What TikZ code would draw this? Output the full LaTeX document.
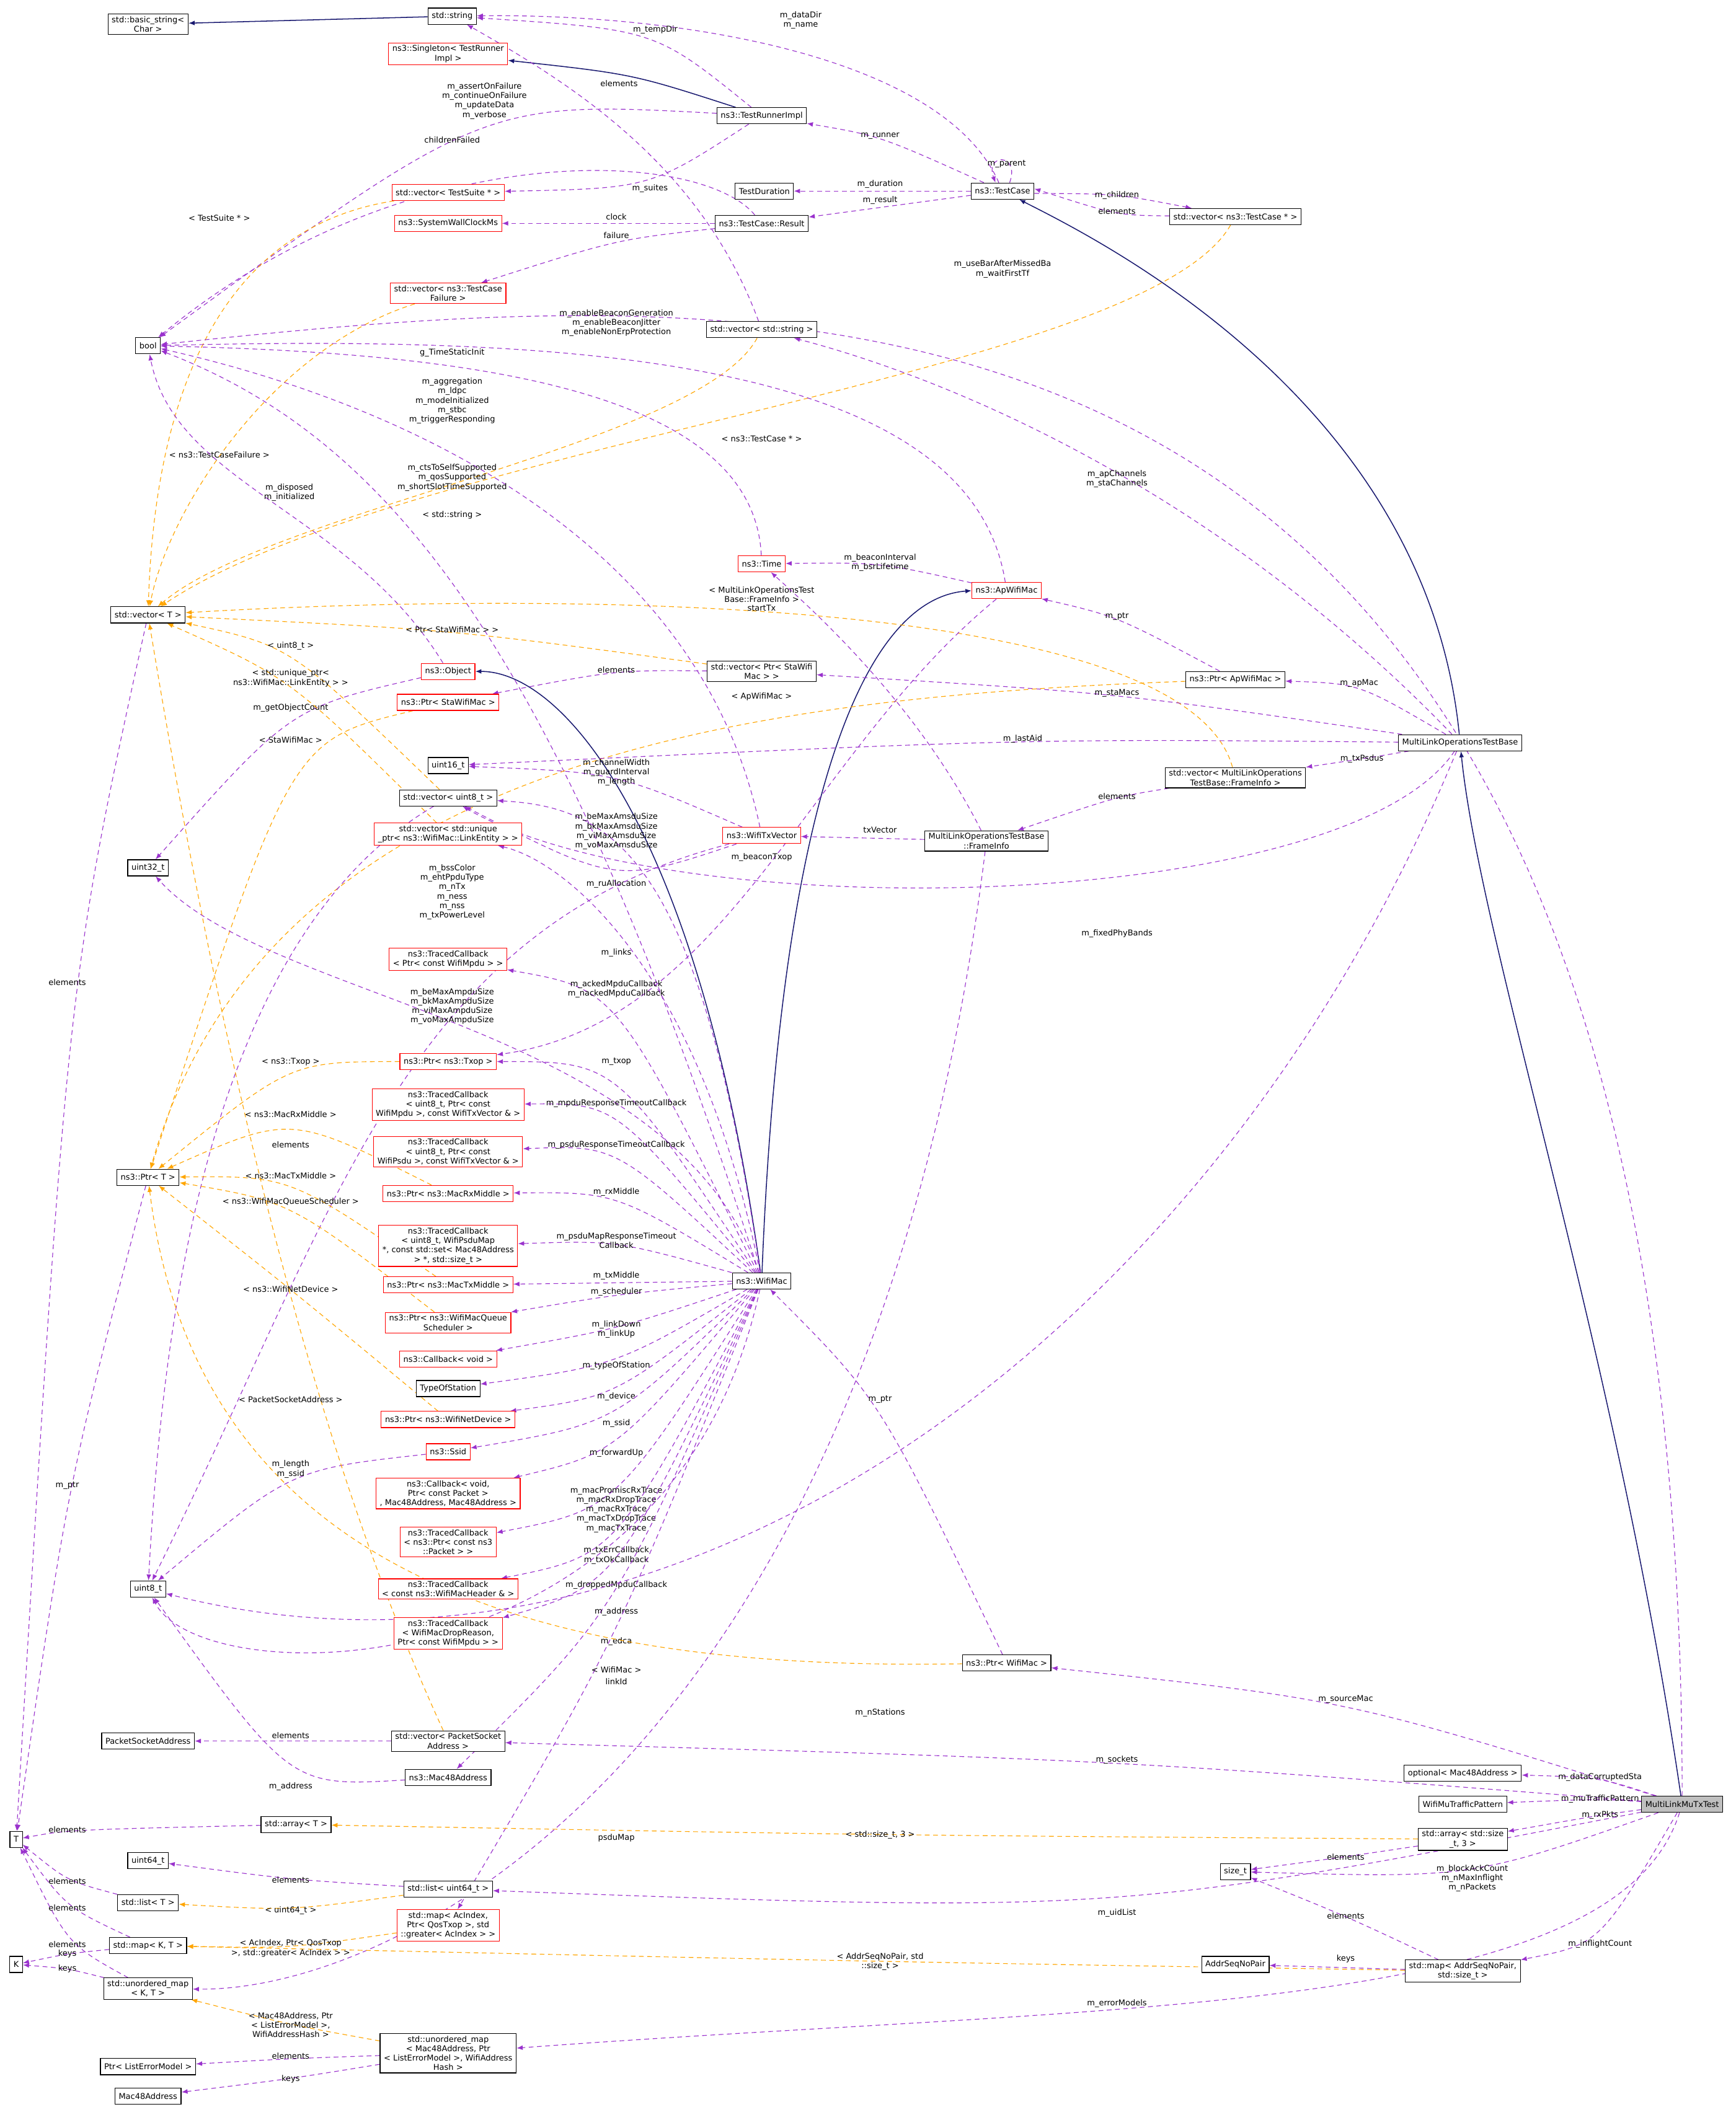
\documentclass[tikz,border=0pt]{standalone}
\usepackage{fontspec}
\setmainfont{DejaVu Sans}
\usetikzlibrary{arrows.meta,backgrounds}
\definecolor{depc}{HTML}{9A32CD}
\definecolor{tplc}{HTML}{FFA500}
\definecolor{inhc}{HTML}{191970}
\tikzset{
  box/.style={draw=black, fill=white, line width=0.3pt, inner xsep=1.6pt, inner ysep=1pt,
    minimum height=0.24cm, align=center, font=\fontsize{3.4}{4}\selectfont},
  rbox/.style={box, draw=red},
  gbox/.style={box, fill=black!25},
  dep/.style={draw=depc, line width=0.3pt, dash pattern=on 2pt off 1.5pt, -{Latex[length=2.6pt,width=2pt]}},
  tpl/.style={draw=tplc, line width=0.3pt, dash pattern=on 2pt off 1.5pt, -{Latex[length=2.6pt,width=2pt]}},
  inh/.style={draw=inhc, line width=0.4pt, -{Latex[length=2.6pt,width=2pt]}},
  lbl/.style={font=\fontsize{3.4}{4}\selectfont, align=center, inner sep=0.4pt, text=black},
}
\begin{document}
\begin{tikzpicture}[x=0.02cm, y=-0.02cm]
  \useasboundingbox (0,0) rectangle (1290,1566);
%  type nodes, top part
  \node [box] (basicstring) at (110,18) {std::basic\_string<\\Char >};
  \node [box] (string) at (336,12) {std::string};
  \node [rbox] (singleton) at (333,40) {ns3::Singleton< TestRunner\\Impl >};
  \node [box] (bool) at (110,257) {bool};
  \node [box] (runnerimpl) at (566,86) {ns3::TestRunnerImpl};
  \node [rbox] (vecsuite) at (333,143) {std::vector< TestSuite * >};
  \node [rbox] (wallclock) at (333,166) {ns3::SystemWallClockMs};
  \node [rbox] (vecfailure) at (333,218) {std::vector< ns3::TestCase\\Failure >};
  \node [box] (testduration) at (568,142) {TestDuration};
  \node [box] (result) at (566,166) {ns3::TestCase::Result};
  \node [box] (testcase) at (745,142) {ns3::TestCase};
  \node [box] (vectestcase) at (918,161) {std::vector< ns3::TestCase * >};
  \node [box] (vecstring) at (566,245) {std::vector< std::string >};
  \node [rbox] (time) at (566,419) {ns3::Time};
  \node [rbox] (apwifimac) at (748,439) {ns3::ApWifiMac};
  \node [box] (vecT) at (110,457) {std::vector< T >};
  \node [rbox] (object) at (333,499) {ns3::Object};
  \node [box] (vecstawifi) at (566,499) {std::vector< Ptr< StaWifi\\Mac > >};
  \node [box] (ptrap) at (918,505) {ns3::Ptr< ApWifiMac >};
  \node [rbox] (ptrsta) at (333,522) {ns3::Ptr< StaWifiMac >};
  \node [box] (base) at (1085,552) {MultiLinkOperationsTestBase};
  \node [box] (uint16) at (333,569) {uint16\_t};
  \node [box] (vecframeinfo) at (918,578) {std::vector< MultiLinkOperations\\TestBase::FrameInfo >};
  \node [box] (vecuint8) at (333,593) {std::vector< uint8\_t >};
  \node [rbox] (veclinkentity) at (333,620) {std::vector< std::unique\\\_ptr< ns3::WifiMac::LinkEntity > >};
  \node [rbox] (txvector) at (566,621) {ns3::WifiTxVector};
  \node [box] (frameinfo) at (733,625) {MultiLinkOperationsTestBase\\::FrameInfo};
  \node [box] (uint32) at (110,645) {uint32\_t};
%  WifiMac members
  \node [rbox] (tracedcb1) at (333,713) {ns3::TracedCallback\\< Ptr< const WifiMpdu > >};
  \node [rbox] (ptrtxop) at (333,789) {ns3::Ptr< ns3::Txop >};
  \node [rbox] (tracedcb2) at (333,821) {ns3::TracedCallback\\< uint8\_t, Ptr< const\\WifiMpdu >, const WifiTxVector \& >};
  \node [rbox] (tracedcb3) at (333,856) {ns3::TracedCallback\\< uint8\_t, Ptr< const\\WifiPsdu >, const WifiTxVector \& >};
  \node [box] (ptrT) at (110,875) {ns3::Ptr< T >};
  \node [rbox] (ptrrx) at (333,887) {ns3::Ptr< ns3::MacRxMiddle >};
  \node [rbox] (tracedcb4) at (333,926) {ns3::TracedCallback\\< uint8\_t, WifiPsduMap\\*, const std::set< Mac48Address\\> *, std::size\_t >};
  \node [box] (wifimac) at (566,952) {ns3::WifiMac};
  \node [rbox] (ptrtx) at (333,955) {ns3::Ptr< ns3::MacTxMiddle >};
  \node [rbox] (ptrsched) at (333,983) {ns3::Ptr< ns3::WifiMacQueue\\Scheduler >};
  \node [rbox] (cbvoid) at (333,1010) {ns3::Callback< void >};
  \node [box] (typeofstation) at (333,1032) {TypeOfStation};
  \node [rbox] (ptrnetdev) at (333,1055) {ns3::Ptr< ns3::WifiNetDevice >};
  \node [rbox] (ssid) at (333,1079) {ns3::Ssid};
  \node [rbox] (cbvoid2) at (333,1110) {ns3::Callback< void,\\Ptr< const Packet >\\, Mac48Address, Mac48Address >};
  \node [rbox] (tracedcb5) at (333,1146) {ns3::TracedCallback\\< ns3::Ptr< const ns3\\::Packet > >};
  \node [rbox] (tracedcb6) at (333,1181) {ns3::TracedCallback\\< const ns3::WifiMacHeader \& >};
  \node [rbox] (tracedcb7) at (333,1214) {ns3::TracedCallback\\< WifiMacDropReason,\\Ptr< const WifiMpdu > >};
  \node [box] (uint8) at (110,1181) {uint8\_t};
  \node [box] (ptrwifimac) at (748,1236) {ns3::Ptr< WifiMac >};
%  bottom part
  \node [box] (packetsocketaddr) at (110,1294) {PacketSocketAddress};
  \node [box] (vecpsa) at (333,1294) {std::vector< PacketSocket\\Address >};
  \node [box] (mac48) at (333,1321) {ns3::Mac48Address};
  \node [box] (optional) at (1087,1318) {optional< Mac48Address >};
  \node [box] (wifimu) at (1087,1341) {WifiMuTrafficPattern};
  \node [gbox] (mltest) at (1250,1341) {MultiLinkMuTxTest};
  \node [box] (T) at (12,1367) {T};
  \node [box] (arrayT) at (220,1356) {std::array< T >};
  \node [box] (arraysize) at (1087,1367) {std::array< std::size\\\_t, 3 >};
  \node [box] (uint64) at (110,1383) {uint64\_t};
  \node [box] (sizet) at (918,1391) {size\_t};
  \node [box] (listT) at (110,1414) {std::list< T >};
  \node [box] (listuint64) at (333,1404) {std::list< uint64\_t >};
  \node [box] (mapKT) at (110,1446) {std::map< K, T >};
  \node [rbox] (mapac) at (333,1431) {std::map< AcIndex,\\Ptr< QosTxop >, std\\::greater< AcIndex > >};
  \node [box] (K) at (12,1460) {K};
  \node [box] (umapKT) at (110,1478) {std::unordered\_map\\< K, T >};
  \node [box] (addrseq) at (918,1460) {AddrSeqNoPair};
  \node [box] (mapaddr) at (1087,1465) {std::map< AddrSeqNoPair,\\std::size\_t >};
  \node [box] (ptrerr) at (110,1536) {Ptr< ListErrorModel >};
  \node [box] (umaperr) at (333,1526) {std::unordered\_map\\< Mac48Address, Ptr\\< ListErrorModel >, WifiAddress\\Hash >};
  \node [box] (mac48addr) at (110,1558) {Mac48Address};

  \begin{scope}[on background layer]
%  inheritance
  \draw [inh] (string) -- (basicstring);
  \draw [inh] (runnerimpl) .. controls (470,55) .. (singleton);
  \draw [inh] (base) .. controls (1060,300) and (820,180) .. (testcase);
  \draw [inh] (mltest) .. controls (1200,1000) and (1100,700) .. (base);
  \draw [inh] (wifimac) .. controls (580,600) and (640,445) .. (apwifimac.west) ;
  \draw [inh] (wifimac) .. controls (520,620) and (420,499) .. (object);

%  test framework
  \draw [dep] (testcase) .. controls (700,40) and (500,10) .. (string) node [lbl, at={(595,15)}] {m\_dataDir\\m\_name};
  \draw [dep] (runnerimpl) .. controls (487,22) .. (string) node [lbl, at={(487,22)}] {m\_tempDir};
  \draw [dep] (vecstring) .. controls (520,120) and (420,60) .. (string) node [lbl, at={(460,62)}] {elements};
  \draw [dep] (runnerimpl) .. controls (360,75) .. (bool) node [lbl, at={(360,75)}] {m\_assertOnFailure\\m\_continueOnFailure\\m\_updateData\\m\_verbose};
  \draw [dep] (result) .. controls (520,110) and (300,100) .. (bool) node [lbl, at={(336,104)}] {childrenFailed};
  \draw [dep] (runnerimpl) .. controls (483,140) .. (vecsuite) node [lbl, at={(483,140)}] {m\_suites};
  \draw [dep] (testcase) .. controls (654,101) .. (runnerimpl) node [lbl, at={(654,101)}] {m\_runner};
  \draw [dep] ([xshift=3pt]testcase.north) .. controls +(8,-22) and +(-8,-22) .. ([xshift=-3pt]testcase.north) node [lbl, at={(748,122)}] {m\_parent};
  \draw [dep] (testcase) -- (testduration) node [lbl, at={(654,137)}] {m\_duration};
  \draw [dep] (testcase) -- (result) node [lbl, at={(654,149)}] {m\_result};
  \draw [dep] ([yshift=-1pt]testcase.east) .. controls (830,144) .. (vectestcase) node [lbl, at={(830,145)}] {m\_children};
  \draw [dep] (vectestcase) .. controls (830,160) .. ([yshift=1pt]testcase.east) node [lbl, at={(830,157)}] {elements};
  \draw [dep] (result) -- (wallclock) node [lbl, at={(458,161)}] {clock};
  \draw [dep] (result) .. controls (458,178) .. (vecfailure) node [lbl, at={(458,175)}] {failure};
  \draw [tpl] (vecsuite) .. controls (160,170) and (115,300) .. (vecT) node [lbl, at={(163,162)}] {< TestSuite * >};
  \draw [tpl] (vecfailure) .. controls (200,260) and (125,380) .. (vecT) node [lbl, at={(163,338)}] {< ns3::TestCaseFailure >};
  \draw [tpl] (vecstring) .. controls (520,330) and (200,380) .. (vecT) node [lbl, at={(336,383)}] {< std::string >};
  \draw [tpl] (vectestcase) .. controls (850,280) and (300,330) .. (vecT) node [lbl, at={(566,326)}] {< ns3::TestCase * >};

%  bool members
  \draw [dep] (mltest) .. controls (1250,150) and (600,205) .. (bool) node [lbl, at={(745,200)}] {m\_useBarAfterMissedBa\\m\_waitFirstTf};
  \draw [dep] (apwifimac) .. controls (720,260) and (400,250) .. (bool) node [lbl, at={(458,240)}] {m\_enableBeaconGeneration\\m\_enableBeaconJitter\\m\_enableNonErpProtection};
  \draw [dep] (time) .. controls (560,290) and (350,262) .. (bool) node [lbl, at={(336,262)}] {g\_TimeStaticInit};
  \draw [dep] (txvector) .. controls (520,400) and (300,300) .. (bool) node [lbl, at={(336,298)}] {m\_aggregation\\m\_ldpc\\m\_modeInitialized\\m\_stbc\\m\_triggerResponding};
  \draw [dep] (wifimac) .. controls (420,500) and (300,330) .. (bool) node [lbl, at={(336,355)}] {m\_ctsToSelfSupported\\m\_qosSupported\\m\_shortSlotTimeSupported};
  \draw [dep] (object) .. controls (260,380) and (130,360) .. (bool) node [lbl, at={(215,366)}] {m\_disposed\\m\_initialized};

%  MultiLinkOperationsTestBase members
  \draw [dep] (base) .. controls (900,360) and (700,280) .. (vecstring) node [lbl, at={(830,356)}] {m\_apChannels\\m\_staChannels};
  \draw [tpl] (vecframeinfo) .. controls (880,440) and (400,440) .. (vecT) node [lbl, at={(566,442)}] {< MultiLinkOperationsTest\\Base::FrameInfo >};
  \draw [dep] (apwifimac) .. controls (654,418) .. (time) node [lbl, at={(654,418)}] {m\_beaconInterval\\m\_bsrLifetime};
  \draw [dep] (frameinfo) .. controls (680,520) and (600,450) .. (time) node [lbl, at={(566,452)}] {startTx};
  \draw [dep] (ptrap) .. controls (830,458) .. (apwifimac) node [lbl, at={(830,458)}] {m\_ptr};
  \draw [dep] (base) .. controls (1010,508) .. (ptrap) node [lbl, at={(1010,508)}] {m\_apMac};
  \draw [dep] (base) .. controls (830,515) .. (vecstawifi) node [lbl, at={(830,515)}] {m\_staMacs};
  \draw [dep] (vecstawifi) .. controls (458,498) .. (ptrsta) node [lbl, at={(458,498)}] {elements};
  \draw [tpl] (vecstawifi) .. controls (336,468) .. (vecT) node [lbl, at={(336,468)}] {< Ptr< StaWifiMac > >};
  \draw [tpl] (ptrap) .. controls (566,518) and (200,560) .. (ptrT) node [lbl, at={(566,518)}] {< ApWifiMac >};
  \draw [tpl] (ptrsta) .. controls (216,550) .. (ptrT) node [lbl, at={(216,550)}] {< StaWifiMac >};
  \draw [dep] (object) .. controls (216,526) .. (uint32) node [lbl, at={(216,526)}] {m\_getObjectCount};
  \draw [tpl] (vecuint8) .. controls (216,480) .. (vecT) node [lbl, at={(216,480)}] {< uint8\_t >};
  \draw [tpl] (veclinkentity) .. controls (216,504) .. (vecT) node [lbl, at={(216,504)}] {< std::unique\_ptr<\\ns3::WifiMac::LinkEntity > >};
  \draw [dep] (base) .. controls (760,549) .. (uint16) node [lbl, at={(760,549)}] {m\_lastAid};
  \draw [dep] (base) .. controls (1012,564) .. (vecframeinfo) node [lbl, at={(1012,564)}] {m\_txPsdus};
  \draw [dep] (vecframeinfo) .. controls (830,592) .. (frameinfo) node [lbl, at={(830,592)}] {elements};
  \draw [dep] (txvector) .. controls (458,574) .. (uint16) node [lbl, at={(458,574)}] {m\_channelWidth\\m\_guardInterval\\m\_length};
  \draw [dep] (wifimac) .. controls (520,640) and (458,600) .. (vecuint8) node [lbl, at={(458,618)}] {m\_beMaxAmsduSize\\m\_bkMaxAmsduSize\\m\_viMaxAmsduSize\\m\_voMaxAmsduSize};
  \draw [dep] (frameinfo) -- (txvector) node [lbl, at={(654,617)}] {txVector};
  \draw [dep] (apwifimac) .. controls (600,560) and (540,760) .. (ptrtxop) node [lbl, at={(566,637)}] {m\_beaconTxop};
  \draw [dep] (wifimac) .. controls (520,720) and (420,640) .. (veclinkentity) node [lbl, at={(458,708)}] {m\_links};
  \draw [dep] (txvector) .. controls (458,657) .. (vecuint8) node [lbl, at={(458,657)}] {m\_ruAllocation};
  \draw [dep] (txvector) .. controls (300,690) and (250,900) .. (uint8) node [lbl, at={(336,663)}] {m\_bssColor\\m\_ehtPpduType\\m\_nTx\\m\_ness\\m\_nss\\m\_txPowerLevel};
  \draw [dep] (base) .. controls (1000,680) and (500,690) .. (vecuint8) node [lbl, at={(830,694)}] {m\_fixedPhyBands};

%  WifiMac members
  \draw [dep] (wifimac) .. controls (458,735) .. (tracedcb1) node [lbl, at={(458,735)}] {m\_ackedMpduCallback\\m\_nackedMpduCallback};
  \draw [dep] (wifimac) .. controls (500,760) and (200,745) .. (uint32) node [lbl, at={(336,748)}] {m\_beMaxAmpduSize\\m\_bkMaxAmpduSize\\m\_viMaxAmpduSize\\m\_voMaxAmpduSize};
  \draw [dep] (wifimac) .. controls (458,789) .. (ptrtxop) node [lbl, at={(458,789)}] {m\_txop};
  \draw [tpl] (ptrtxop) .. controls (216,789) .. (ptrT) node [lbl, at={(216,789)}] {< ns3::Txop >};
  \draw [dep] (wifimac) .. controls (458,820) .. (tracedcb2) node [lbl, at={(458,820)}] {m\_mpduResponseTimeoutCallback};
  \draw [tpl] (ptrrx) .. controls (216,828) .. (ptrT) node [lbl, at={(216,828)}] {< ns3::MacRxMiddle >};
  \draw [dep] (vecuint8) .. controls (150,700) and (120,1000) .. (uint8) node [lbl, at={(216,851)}] {elements};
  \draw [dep] (wifimac) .. controls (458,851) .. (tracedcb3) node [lbl, at={(458,851)}] {m\_psduResponseTimeoutCallback};
  \draw [tpl] (ptrtx) .. controls (216,874) .. (ptrT) node [lbl, at={(216,874)}] {< ns3::MacTxMiddle >};
  \draw [dep] (wifimac) .. controls (458,886) .. (ptrrx) node [lbl, at={(458,886)}] {m\_rxMiddle};
  \draw [tpl] (ptrsched) .. controls (216,893) .. (ptrT) node [lbl, at={(216,893)}] {< ns3::WifiMacQueueScheduler >};
  \draw [dep] (wifimac) .. controls (458,922) .. (tracedcb4) node [lbl, at={(458,922)}] {m\_psduMapResponseTimeout\\Callback};
  \draw [tpl] (ptrnetdev) .. controls (216,958) .. (ptrT) node [lbl, at={(216,958)}] {< ns3::WifiNetDevice >};
  \draw [dep] (wifimac) -- (ptrtx) node [lbl, at={(458,948)}] {m\_txMiddle};
  \draw [dep] (wifimac) .. controls (458,962) .. (ptrsched) node [lbl, at={(458,960)}] {m\_scheduler};
  \draw [dep] (wifimac) .. controls (458,988) .. (cbvoid) node [lbl, at={(458,988)}] {m\_linkDown\\m\_linkUp};
  \draw [dep] (wifimac) .. controls (458,1015) .. (typeofstation) node [lbl, at={(458,1015)}] {m\_typeOfStation};
  \draw [dep] (wifimac) .. controls (458,1038) .. (ptrnetdev) node [lbl, at={(458,1038)}] {m\_device};
  \draw [dep] (wifimac) .. controls (458,1058) .. (ssid) node [lbl, at={(458,1058)}] {m\_ssid};
  \draw [dep] (wifimac) .. controls (458,1080) .. (cbvoid2) node [lbl, at={(458,1080)}] {m\_forwardUp};
  \draw [dep] (wifimac) .. controls (458,1122) .. (tracedcb5) node [lbl, at={(458,1122)}] {m\_macPromiscRxTrace\\m\_macRxDropTrace\\m\_macRxTrace\\m\_macTxDropTrace\\m\_macTxTrace};
  \draw [dep] (wifimac) .. controls (458,1156) .. (tracedcb6) node [lbl, at={(458,1156)}] {m\_txErrCallback\\m\_txOkCallback};
  \draw [dep] (wifimac) .. controls (458,1178) .. (tracedcb7) node [lbl, at={(458,1178)}] {m\_droppedMpduCallback};
  \draw [dep] (wifimac) .. controls (458,1198) .. (mac48) node [lbl, at={(458,1198)}] {m\_address};
  \draw [dep] (wifimac) .. controls (458,1220) .. (mapac) node [lbl, at={(458,1220)}] {m\_edca};
  \draw [dep] (wifimac) .. controls (500,1260) and (150,1260) .. (uint8) node [lbl, at={(458,1250)}] {linkId};
  \draw [dep] (ptrwifimac) .. controls (654,1040) .. (wifimac) node [lbl, at={(654,1040)}] {m\_ptr};
  \draw [tpl] (ptrwifimac) .. controls (458,1241) and (150,1200) .. (ptrT) node [lbl, at={(458,1241)}] {< WifiMac >};
  \draw [dep] (ssid) .. controls (216,1092) .. (uint8) node [lbl, at={(216,1092)}] {m\_length\\m\_ssid};
  \draw [tpl] (vecpsa) .. controls (216,1040) and (150,700) .. (vecT) node [lbl, at={(216,1040)}] {< PacketSocketAddress >};
  \draw [dep] (ptrT) .. controls (50,1104) .. (T) node [lbl, at={(50,1104)}] {m\_ptr};
  \draw [dep] (vecT) .. controls (50,730) .. (T) node [lbl, at={(50,730)}] {elements};

%  MultiLinkMuTxTest members
  \draw [dep] (mltest) .. controls (1000,1263) .. (ptrwifimac) node [lbl, at={(1000,1263)}] {m\_sourceMac};
  \draw [dep] (base) .. controls (900,1000) and (500,1280) .. (uint8) node [lbl, at={(654,1273)}] {m\_nStations};
  \draw [dep] (mltest) .. controls (830,1308) .. (vecpsa) node [lbl, at={(830,1308)}] {m\_sockets};
  \draw [dep] (vecpsa) -- (packetsocketaddr) node [lbl, at={(216,1290)}] {elements};
  \draw [dep] (mac48) .. controls (216,1328) .. (uint8) node [lbl, at={(216,1328)}] {m\_address};
  \draw [dep] (mltest) .. controls (1189,1321) .. (optional) node [lbl, at={(1189,1321)}] {m\_dataCorruptedSta};
  \draw [dep] (mltest) .. controls (1189,1337) .. (wifimu) node [lbl, at={(1189,1337)}] {m\_muTrafficPattern};
  \draw [dep] (mltest) .. controls (1189,1349) .. (arraysize) node [lbl, at={(1189,1349)}] {m\_rxPkts};
  \draw [tpl] (arraysize) .. controls (654,1364) .. (arrayT) node [lbl, at={(654,1364)}] {< std::size\_t, 3 >};
  \draw [dep] (arrayT) .. controls (50,1360) .. (T) node [lbl, at={(50,1360)}] {elements};
  \draw [dep] (arraysize) .. controls (1000,1380) .. (sizet) node [lbl, at={(1000,1380)}] {elements};
  \draw [dep] (mltest) .. controls (1094,1396) .. (sizet) node [lbl, at={(1094,1396)}] {m\_blockAckCount\\m\_nMaxInflight\\m\_nPackets};
  \draw [dep] (mltest) .. controls (830,1422) .. (listuint64) node [lbl, at={(830,1422)}] {m\_uidList};
  \draw [dep] (listuint64) .. controls (216,1397) .. (uint64) node [lbl, at={(216,1397)}] {elements};
  \draw [tpl] (listuint64) .. controls (216,1420) .. (listT) node [lbl, at={(216,1420)}] {< uint64\_t >};
  \draw [dep] (listT) .. controls (50,1398) .. (T) node [lbl, at={(50,1398)}] {elements};
  \draw [dep] (frameinfo) .. controls (650,1300) and (300,1480) .. (umapKT) node [lbl, at={(458,1366)}] {psduMap};
  \draw [tpl] (mapac) .. controls (216,1448) .. (mapKT) node [lbl, at={(216,1448)}] {< AcIndex, Ptr< QosTxop\\>, std::greater< AcIndex > >};
  \draw [dep] (mapKT) .. controls (50,1418) .. (T) node [lbl, at={(50,1418)}] {elements};
  \draw [dep] (mapKT) .. controls (50,1452) .. (K) node [lbl, at={(50,1452)}] {keys};
  \draw [dep] (mltest) .. controls (1189,1445) .. (mapaddr) node [lbl, at={(1189,1445)}] {m\_inflightCount};
  \draw [tpl] (mapaddr) .. controls (654,1458) .. (mapKT) node [lbl, at={(654,1458)}] {< AddrSeqNoPair, std\\::size\_t >};
  \draw [dep] (mapaddr) -- (addrseq) node [lbl, at={(1000,1456)}] {keys};
  \draw [dep] (mapaddr) .. controls (1000,1424) .. (sizet) node [lbl, at={(1000,1424)}] {elements};
  \draw [dep] (umapKT) .. controls (50,1445) .. (T) node [lbl, at={(50,1445)}] {elements};
  \draw [dep] (umapKT) .. controls (50,1463) .. (K) node [lbl, at={(50,1463)}] {keys};
  \draw [tpl] (umaperr) .. controls (216,1505) .. (umapKT) node [lbl, at={(216,1505)}] {< Mac48Address, Ptr\\< ListErrorModel >,\\WifiAddressHash >};
  \draw [dep] (mltest) .. controls (1200,1500) and (830,1489) .. (umaperr) node [lbl, at={(830,1489)}] {m\_errorModels};
  \draw [dep] (umaperr) .. controls (216,1530) .. (ptrerr) node [lbl, at={(216,1528)}] {elements};
  \draw [dep] (umaperr) .. controls (216,1545) .. (mac48addr) node [lbl, at={(216,1545)}] {keys};
  \end{scope}
\end{tikzpicture}
\end{document}
